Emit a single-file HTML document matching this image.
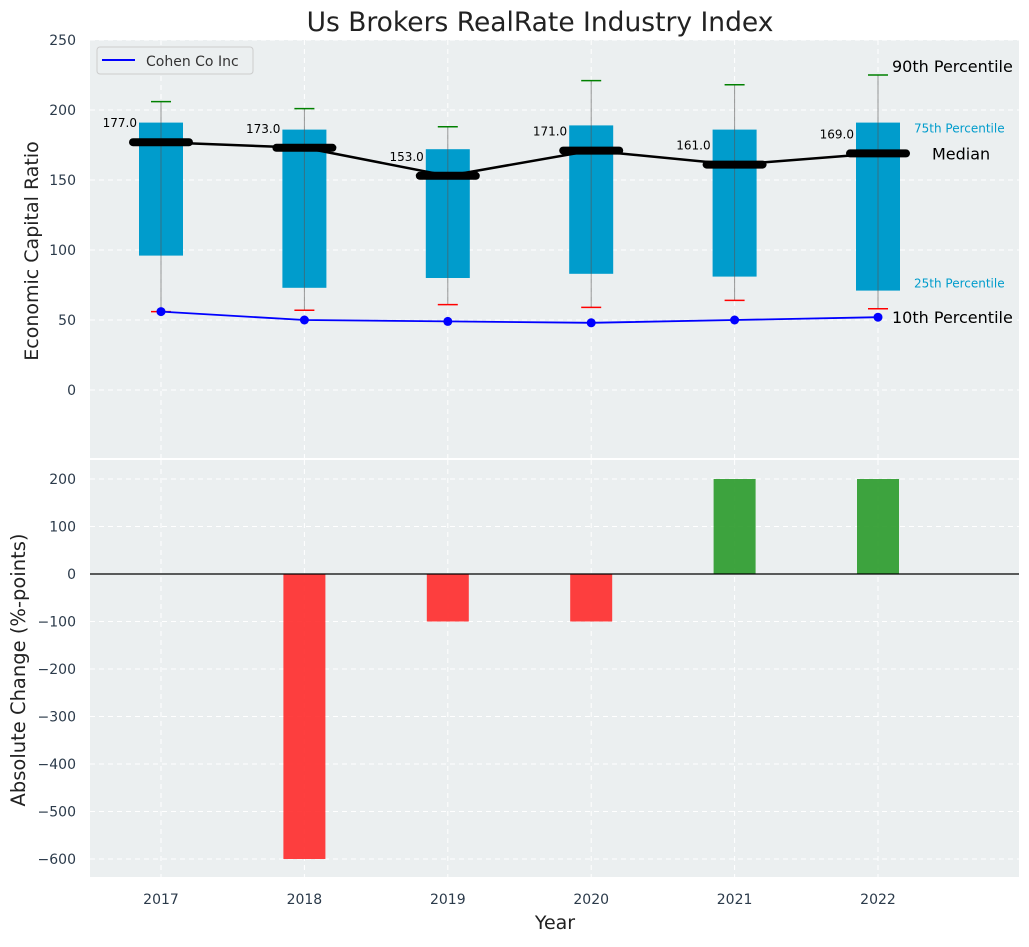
<!DOCTYPE html>
<html><head><meta charset="utf-8"><style>
body{margin:0;background:#fff;font-family:"Liberation Sans","DejaVu Sans",sans-serif;}
svg text{font-family:"DejaVu Sans","Liberation Sans",sans-serif;}
</style></head><body>
<svg id="c" width="1029" height="942" viewBox="0 0 1029 942"></svg>
<script>
const years=[2017,2018,2019,2020,2021,2022];
const q1=[96,73,80,83,81,71];
const q3=[191,186,172,189,186,191];
const p90=[206,201,188,221,218,225];
const p10=[56,57,61,59,64,58];
const medians=[177,173,153,171,161,169];
const company=[56,50,49,48,50,52];
const changes=[0,-600,-100,-100,200,200];
const topTicks=[0,50,100,150,200,250];
const botTicks=[-600,-500,-400,-300,-200,-100,0,100,200];

const NS='http://www.w3.org/2000/svg';
const svg=document.getElementById('c');
function el(t,a,p){const e=document.createElementNS(NS,t);for(const k in a)e.setAttribute(k,a[k]);(p||svg).appendChild(e);return e;}
const L=90,R=1019;
const x=v=>161+(v-2017)*143.4;
const yT=v=>390-v*1.4;
const yB=v=>574-v*0.475;

let t=el('text',{x:540,y:31,'font-size':26.5,'text-anchor':'middle',fill:'#222'});t.textContent='Us Brokers RealRate Industry Index';


let bg=el('rect',{x:L,y:40,width:R-L,height:418,fill:'#ebeff0'});

let bg2=el('rect',{x:L,y:460,width:R-L,height:417,fill:'#ebeff0'});


topTicks.forEach(v=>{
 el('line',{x1:L,x2:R,y1:yT(v),y2:yT(v),stroke:'#fff','stroke-dasharray':'5,4','stroke-width':1});
 let tt=el('text',{x:76,y:yT(v)+5,'font-size':14,'text-anchor':'end',fill:'#2b3a4a'});tt.textContent=v;
 
});
botTicks.forEach(v=>{
 el('line',{x1:L,x2:R,y1:yB(v),y2:yB(v),stroke:'#fff','stroke-dasharray':'5,4','stroke-width':1});
 let tt=el('text',{x:76,y:yB(v)+5,'font-size':14,'text-anchor':'end',fill:'#2b3a4a'});tt.textContent=(v<0?'\u2212'+(-v):v);
 
});
years.forEach(v=>{
 el('line',{x1:x(v),x2:x(v),y1:40,y2:458,stroke:'#fff','stroke-dasharray':'5,4'});
 el('line',{x1:x(v),x2:x(v),y1:460,y2:877,stroke:'#fff','stroke-dasharray':'5,4'});
 let tt=el('text',{x:x(v),y:904,'font-size':14,'text-anchor':'middle',fill:'#2b3a4a'});tt.textContent=v;
 
});

years.forEach((v,i)=>{
 const cx=x(v);
 let b=el('rect',{x:cx-22,y:yT(q3[i]),width:44,height:yT(q1[i])-yT(q3[i]),fill:'#009ccc'});
 
 el('line',{x1:cx,x2:cx,y1:yT(p90[i]),y2:yT(p10[i]),stroke:'#555','stroke-opacity':0.6,'stroke-width':1});
 let c1=el('line',{x1:cx-10,x2:cx+10,y1:yT(p90[i]),y2:yT(p90[i]),stroke:'green','stroke-width':1.5});
 
 let c2=el('line',{x1:cx-10,x2:cx+10,y1:yT(p10[i]),y2:yT(p10[i]),stroke:'red','stroke-width':1.5});
 
});
let mp=el('polyline',{points:years.map((v,i)=>x(v)+','+yT(medians[i])).join(' '),fill:'none',stroke:'#000','stroke-width':2.5});

years.forEach((v,i)=>{
 let m=el('line',{x1:x(v)-28,x2:x(v)+28,y1:yT(medians[i]),y2:yT(medians[i]),stroke:'#000','stroke-width':8,'stroke-linecap':'round'});
 
 let tt=el('text',{x:x(v)-24,y:yT(medians[i])-15,'font-size':12,'text-anchor':'end',fill:'#000'});tt.textContent=medians[i].toFixed(1);
 
});
let cp=el('polyline',{points:years.map((v,i)=>x(v)+','+yT(company[i])).join(' '),fill:'none',stroke:'#0000ff','stroke-width':1.8});

years.forEach((v,i)=>{
 let d=el('circle',{cx:x(v),cy:yT(company[i]),r:4.5,fill:'#0000ff'});
 
});
const li=years.length-1, ax=x(years[li])+14;
[[p90[li],'90th Percentile',16,'#000',ax,-3],[q3[li],'75th Percentile',12,'#009ccc',ax+22,10],[medians[li],'Median',16,'#000',ax+40,6],[q1[li],'25th Percentile',12,'#009ccc',ax+22,-3],[company[li],'10th Percentile',16,'#000',ax,6]].forEach(a=>{
 let tt=el('text',{x:a[4],y:yT(a[0])+a[5],'font-size':a[2],fill:a[3]});tt.textContent=a[1];
 
});
let lg=el('g',{});
el('rect',{x:97,y:47,width:156,height:27,rx:3,fill:'#ebeff0',stroke:'#ccc'},lg);
el('line',{x1:102,x2:135,y1:60,y2:60,stroke:'#0000ff','stroke-width':2},lg);
let lt=el('text',{x:146,y:66,'font-size':14,fill:'#333'},lg);lt.textContent='Cohen Co Inc';

years.forEach((v,i)=>{
 const c=changes[i];if(!c)return;
 let b=el('rect',{x:x(v)-21,y:Math.min(yB(0),yB(c)),width:42,height:Math.abs(yB(c)-yB(0)),fill:c<0?'#ff2a2a':'#2a9a2a','fill-opacity':0.9});
 
});
let zl=el('line',{x1:L,x2:R,y1:yB(0),y2:yB(0),stroke:'#000','stroke-width':1.2});


let a1=el('text',{x:38,y:251,'font-size':19,'text-anchor':'middle',fill:'#222',transform:'rotate(-90 38 251)'});a1.textContent='Economic Capital Ratio';

let a2=el('text',{x:25,y:670,'font-size':19.5,'text-anchor':'middle',fill:'#222',transform:'rotate(-90 25 670)'});a2.textContent='Absolute Change (%-points)';

let a3=el('text',{x:555,y:929,'font-size':19,'text-anchor':'middle',fill:'#222'});a3.textContent='Year';

</script>
</body></html>
